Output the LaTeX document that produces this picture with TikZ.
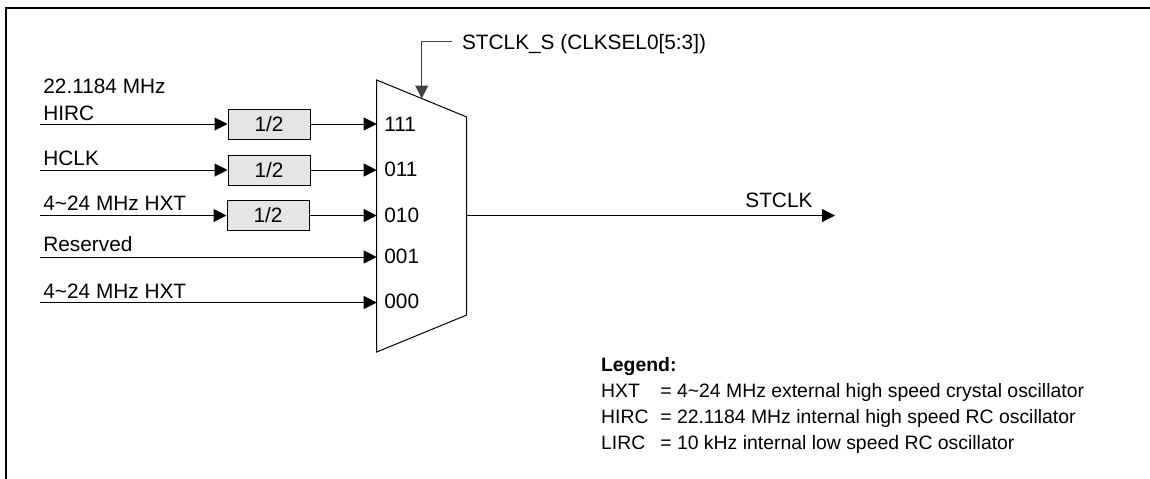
\documentclass[tikz,border=0pt]{standalone}
\usepackage{fontspec}
\setmainfont{Liberation Sans}
\usetikzlibrary{arrows.meta, calc}

\begin{document}
\begin{tikzpicture}[x=0.5pt, y=-0.5pt,
  >={Triangle[length=6.5pt, width=6.5pt]},
  font=\fontsize{10.4}{12.9}\selectfont,
  lbl/.style={anchor=base west, inner sep=0pt},
  div/.style={draw, fill=black!10, line width=0.5pt, minimum width=41pt,
              minimum height=15pt, inner sep=0pt},
  wire/.style={->, line width=0.5pt}]
  \useasboundingbox (0,0) rectangle (1150,478);
  % frame
  \draw[line width=1.2pt] (6,490) -- (6,8) -- (1160,8);
  % multiplexer
  \coordinate (mtl) at (376.7,80);  \coordinate (mtr) at (466.7,117);
  \coordinate (mbr) at (466.7,315); \coordinate (mbl) at (376.7,352);
  \draw[line width=0.5pt] (mtl) -- (mtr) -- (mbr) -- (mbl) -- cycle;
  \coordinate (mtop) at ($(mtl)!0.5!(mtr)$);
  \coordinate (mout) at (466.7,215.5);
  \foreach \n/\y/\b in {111/124/131.7, 011/170/176.7, 010/215.5/222.3,
                        001/257/263.3, 000/302.5/308.3} {
    \coordinate (i\n) at (376.7,\y);
    \node[lbl] (t\n) at (384,\b) {\n};
  }
  % dividers
  \node[div] (d1) at (269,124) {1/2};
  \node[div] (d2) at (269,170) {1/2};
  \node[div] (d3) at (268,215.5) {1/2};
  % sources
  \foreach \k/\y in {1/124, 2/170, 3/215.5, 4/257, 5/302.5}
    \coordinate (s\k) at (40,\y);
  \node[lbl] (hircf) at (43,93) {22.1184 MHz};
  \node[lbl] (hirc) at (43,120.5) {HIRC};
  \node[lbl] (hclk) at (43,165) {HCLK};
  \node[lbl] (hxta) at (43,210.7) {4\textasciitilde24 MHz HXT};
  \node[lbl] (rsv) at (43,251.7) {Reserved};
  \node[lbl] (hxtb) at (43,298.3) {4\textasciitilde24 MHz HXT};
  \draw[wire] (s1) -- (d1); \draw[wire] (d1) -- (i111);
  \draw[wire] (s2) -- (d2); \draw[wire] (d2) -- (i011);
  \draw[wire] (s3) -- (d3); \draw[wire] (d3) -- (i010);
  \draw[wire] (s4) -- (i001);
  \draw[wire] (s5) -- (i000);
  % select
  \node[lbl] (sel) at (461.7,49.3) {STCLK\_S (CLKSEL0[5:3])};
  \coordinate (selend) at (451.7,41.7);
  \draw[wire, black!75] (selend) -| (mtop);
  % output
  \coordinate (outend) at (835,215.5);
  \draw[wire] (mout) -- (outend);
  \node[lbl] (stclk) at (745,207.7) {STCLK};
  % legend
  \node[lbl, font=\fontsize{9.7}{12.9}\selectfont] (legend) at (600.7,371.7) {%
    \begin{tabular}[t]{@{}p{29.6pt}@{}l@{}}
      \multicolumn{2}{@{}l@{}}{\bfseries Legend:}\\
      HXT  & = 4\textasciitilde24 MHz external high speed crystal oscillator\\
      HIRC & = 22.1184 MHz internal high speed RC oscillator\\
      LIRC & = 10 kHz internal low speed RC oscillator
    \end{tabular}};
\end{tikzpicture}
\end{document}
